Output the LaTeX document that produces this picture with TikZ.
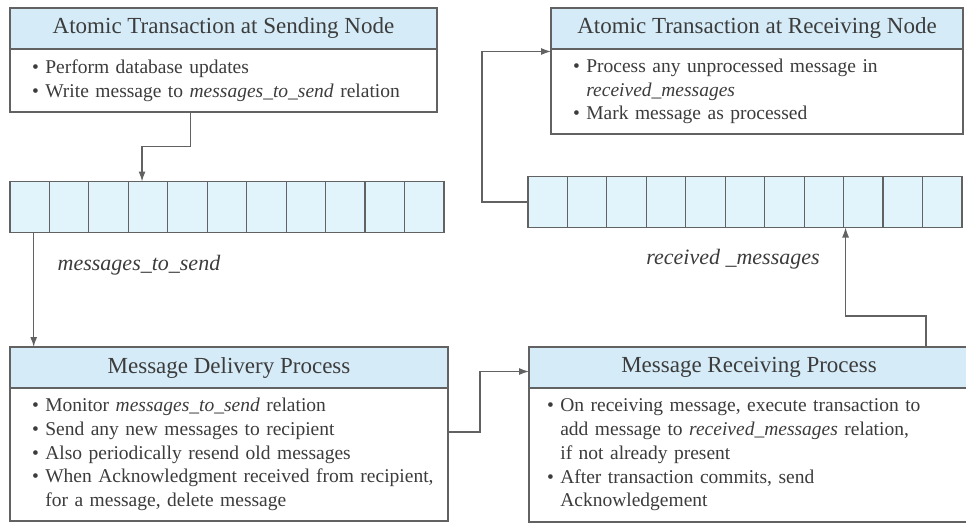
\documentclass[tikz,border=0pt]{standalone}
\usepackage{fontspec}
\setmainfont{Liberation Serif}
\usepackage{tikz}
\usetikzlibrary{arrows.meta,positioning}
\definecolor{HeadBlue}{RGB}{213,236,248}
\definecolor{CellBlue}{RGB}{225,243,251}
\definecolor{LineGray}{RGB}{98,98,98}
\definecolor{InkGray}{RGB}{60,60,60}
\newcommand{\itm}{\textbullet\ }
\newcommand{\cont}{\phantom{\textbullet\ }}
\hyphenpenalty=10000

\begin{document}
\begin{tikzpicture}[x=1pt,y=1pt,>={Latex[length=10pt,width=7pt]},
    head/.style={draw=LineGray,line width=1.2pt,fill=HeadBlue,text=InkGray,outer sep=0pt,
      minimum height=41pt,inner sep=0pt,font=\fontsize{23}{27}\selectfont},
    body/.style={draw=LineGray,line width=1.2pt,fill=white,text=InkGray,outer sep=0pt,
      inner xsep=22pt,inner ysep=0pt,align=left,font=\fontsize{19.5}{23.7}\selectfont},
    cell/.style={draw=LineGray,line width=1.2pt,fill=CellBlue,outer sep=0pt,
      minimum width=39.45pt,minimum height=51pt,inner sep=0pt},
    tag/.style={text=InkGray,font=\itshape\fontsize{22}{26}\selectfont},
    link/.style={->,draw=LineGray,line width=1.2pt}]
      \useasboundingbox (0,0) rectangle (966,-522);
      \node[head,anchor=north west,minimum width=427pt] (atsend) at (10,-8) {Atomic Transaction at Sending Node};
      \node[body,below=0pt of atsend,text width=383pt,minimum height=63pt] (atsendbody)
        {\itm Perform database updates\\ \itm Write message to \textit{messages\_to\_send} relation};
      \node[head,anchor=north west,minimum width=412pt] (atrecv) at (551,-8) {Atomic Transaction at Receiving Node};
      \node[body,below=0pt of atrecv,text width=368pt,minimum height=85pt] (atrecvbody)
        {\itm Process any unprocessed message in\\ \cont\textit{received\_messages}\\ \itm Mark message as processed};
      \node[head,anchor=north west,minimum width=438pt] (deliver) at (10,-347) {Message Delivery Process};
      \node[body,below=0pt of deliver,text width=394pt,minimum height=133pt] (deliverbody)
        {\itm Monitor \textit{messages\_to\_send} relation\\ \itm Send any new messages to recipient\\
         \itm Also periodically resend old messages\\ \mbox{\itm When Acknowledgment received from recipient,}\\
         \cont for a message, delete message};
      \node[head,anchor=north west,minimum width=440pt] (receive) at (529,-347) {Message Receiving Process};
      \node[body,below=0pt of receive,inner xsep=18pt,text width=404pt,minimum height=134pt] (receivebody)
        {\itm On receiving message, execute transaction to\\ \cont add message to \textit{received\_messages} relation,\\
         \cont if not already present\\ \itm After transaction commits, send\\ \cont Acknowledgement};
      \foreach \i in {0,...,10}{
        \node[cell] (send\i) at ({29.7+39.45*\i},-207) {};
        \node[cell] (recv\i) at ({547.7+39.45*\i},-202) {};
      }
      \node[tag] (sendtag) at (139,-265) {messages\_to\_send};
      \node[tag] (recvtag) at (733,-259) {received \_messages};
      \draw[link] ([xshift=-33pt]atsendbody.south) -- ++(0,-34.7) -| ([xshift=-6pt]send3.north);
      \draw[link] ([xshift=4pt]send0.south) -- ([xshift=4pt]send0.south |- deliver.north);
      \draw[link] ([yshift=22.5pt]deliverbody.east) -- ++(32,0) |- ([yshift=-4pt]receive.west);
      \draw[link] ([xshift=177pt]receive.north) -- ++(0,31) -| ([xshift=2pt]recv8.south west);
      \draw[link] (recv0.west) -- ++(-46,0) |- ([yshift=-2.5pt]atrecvbody.north west);
    \end{tikzpicture}
\end{document}
